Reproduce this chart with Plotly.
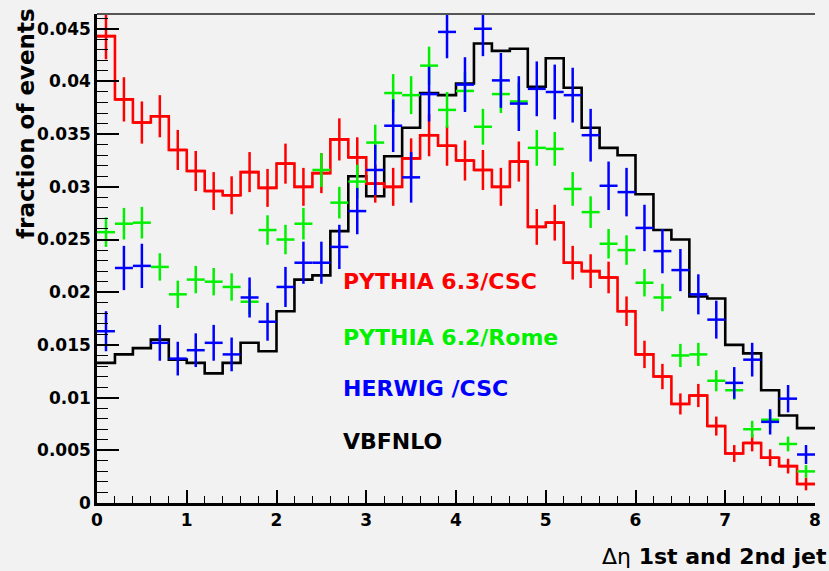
import plotly.graph_objects as go

# Delta-eta between the two leading jets, 40 bins of width 0.2 from 0 to 8
bin_width = 0.2
n_bins = 40
bin_edges = [round(i * bin_width, 1) for i in range(n_bins + 1)]
bin_centers = [round((i + 0.5) * bin_width, 2) for i in range(n_bins)]

# PYTHIA 6.3 / CSC
pythia63 = [0.0443, 0.0383, 0.0361, 0.0367, 0.0335, 0.0315, 0.0296, 0.0292, 0.0314, 0.0299,
            0.0322, 0.0300, 0.0313, 0.0345, 0.0328, 0.0303, 0.0300, 0.0327, 0.0349, 0.0339,
            0.0325, 0.0316, 0.0300, 0.0324, 0.0262, 0.0266, 0.0228, 0.0220, 0.0214, 0.0182,
            0.0141, 0.0120, 0.0094, 0.0102, 0.0073, 0.0047, 0.0057, 0.0043, 0.0035, 0.0018]
pythia63_err = [0.0022, 0.0021, 0.0020, 0.0020, 0.0019, 0.0019, 0.0018, 0.0018, 0.0019, 0.0018,
                0.0019, 0.0018, 0.0019, 0.0020, 0.0019, 0.0018, 0.0018, 0.0019, 0.0020, 0.0019,
                0.0019, 0.0019, 0.0018, 0.0019, 0.0017, 0.0017, 0.0016, 0.0016, 0.0015, 0.0014,
                0.0013, 0.0012, 0.0010, 0.0011, 0.0009, 0.0008, 0.0008, 0.0008, 0.0007, 0.0006]

# PYTHIA 6.2 / Rome
pythia62 = [0.0257, 0.0265, 0.0266, 0.0224, 0.0198, 0.0212, 0.0210, 0.0205, 0.0191, 0.0259,
            0.0250, 0.0265, 0.0316, 0.0285, 0.0305, 0.0342, 0.0389, 0.0387, 0.0415, 0.0373,
            0.0391, 0.0357, 0.0388, 0.0381, 0.0337, 0.0336, 0.0298, 0.0276, 0.0246, 0.0240,
            0.0209, 0.0195, 0.0140, 0.0141, 0.0116, 0.0107, 0.0070, 0.0079, 0.0056, 0.0030]
pythia62_err = [0.0014, 0.0015, 0.0015, 0.0013, 0.0013, 0.0013, 0.0013, 0.0013, 0.0012, 0.0014,
                0.0014, 0.0015, 0.0016, 0.0015, 0.0016, 0.0017, 0.0018, 0.0018, 0.0018, 0.0017,
                0.0018, 0.0017, 0.0018, 0.0018, 0.0017, 0.0016, 0.0016, 0.0015, 0.0014, 0.0014,
                0.0013, 0.0013, 0.0011, 0.0011, 0.0010, 0.0009, 0.0008, 0.0008, 0.0007, 0.0006]

# HERWIG / CSC
herwig = [0.0163, 0.0223, 0.0225, 0.0152, 0.0137, 0.0145, 0.0152, 0.0141, 0.0195, 0.0172,
          0.0205, 0.0228, 0.0228, 0.0243, 0.0277, 0.0316, 0.0358, 0.0309, 0.0388, 0.0447,
          0.0397, 0.0450, 0.0401, 0.0379, 0.0393, 0.0390, 0.0387, 0.0349, 0.0301, 0.0295,
          0.0261, 0.0239, 0.0221, 0.0198, 0.0174, 0.0114, 0.0136, 0.0077, 0.0099, 0.0046]
herwig_err = [0.0019, 0.0021, 0.0021, 0.0017, 0.0016, 0.0016, 0.0017, 0.0016, 0.0019, 0.0018,
              0.0019, 0.0020, 0.0020, 0.0021, 0.0022, 0.0024, 0.0025, 0.0024, 0.0026, 0.0025,
              0.0026, 0.0026, 0.0026, 0.0026, 0.0026, 0.0026, 0.0026, 0.0025, 0.0023, 0.0023,
              0.0022, 0.0021, 0.0020, 0.0019, 0.0018, 0.0015, 0.0016, 0.0012, 0.0013, 0.0009]

# VBFNLO
vbfnlo = [0.0133, 0.0141, 0.0147, 0.0155, 0.0136, 0.0133, 0.0123, 0.0133, 0.0152, 0.0144,
          0.0182, 0.0212, 0.0216, 0.0258, 0.0310, 0.0291, 0.0329, 0.0356, 0.0389, 0.0387,
          0.0398, 0.0436, 0.0429, 0.0431, 0.0395, 0.0422, 0.0394, 0.0356, 0.0337, 0.0330,
          0.0293, 0.0259, 0.0250, 0.0196, 0.0194, 0.0150, 0.0142, 0.0107, 0.0083, 0.0071]

y_tick_vals = [0, 0.005, 0.01, 0.015, 0.02, 0.025, 0.03, 0.035, 0.04, 0.045]
y_tick_text = ["0", "0.005", "0.01", "0.015", "0.02", "0.025", "0.03", "0.035", "0.04", "0.045"]
x_tick_vals = [0, 1, 2, 3, 4, 5, 6, 7, 8]
x_tick_text = ["0", "1", "2", "3", "4", "5", "6", "7", "8"]

legend_labels = ["PYTHIA 6.3/CSC", "PYTHIA 6.2/Rome", "HERWIG /CSC", "VBFNLO"]

RED, GREEN, BLUE, BLACK = "#ff0000", "#00f000", "#0000ff", "#000000"
BG = "#f2f2f2"
FONT = "DejaVu Sans"


def step_trace(values, color, width):
    # histogram outline: horizontal segment across each bin
    return go.Scatter(x=bin_edges, y=values + [values[-1]], mode="lines",
                      line=dict(color=color, width=width, shape="hv"),
                      hoverinfo="skip", showlegend=False)


def cross_trace(values, errors, color):
    # data points drawn as crosses: bin-width horizontal bar + vertical error bar
    return go.Scatter(x=bin_centers, y=values, mode="markers",
                      marker=dict(size=0, color=color, opacity=0),
                      error_x=dict(type="constant", value=bin_width / 2, thickness=2.5,
                                   width=0, color=color),
                      error_y=dict(type="data", array=errors, thickness=2.5,
                                   width=0, color=color),
                      showlegend=False)


fig = go.Figure()
fig.add_trace(step_trace(vbfnlo, BLACK, 2.6))
fig.add_trace(step_trace(pythia63, RED, 2.6))
fig.add_trace(cross_trace(pythia63, pythia63_err, RED))
fig.add_trace(cross_trace(pythia62, pythia62_err, GREEN))
fig.add_trace(cross_trace(herwig, herwig_err, BLUE))

# in-plot labels for the four samples
label_colors = [RED, GREEN, BLUE, BLACK]
label_y = [0.02098, 0.01571, 0.01082, 0.00579]
for text, col, yv in zip(legend_labels, label_colors, label_y):
    fig.add_annotation(x=2.72, y=yv, xref="x", yref="y", text=text, showarrow=False,
                       xanchor="left", yanchor="middle",
                       font=dict(family=FONT, size=22, color=col, weight="bold"))

# axis titles
fig.add_annotation(x=1.0, y=-0.11, xref="paper", yref="paper", xshift=14,
                   text="<span style='font-weight:normal'>Δη</span> 1st and 2nd jet",
                   showarrow=False, xanchor="right", yanchor="middle",
                   font=dict(family=FONT, size=22, color=BLACK, weight="bold"))
fig.add_annotation(x=-0.099, y=0.777, xref="paper", yref="paper",
                   text="fraction of events", textangle=-90, showarrow=False,
                   xanchor="center", yanchor="middle",
                   font=dict(family=FONT, size=23, color=BLACK, weight="bold"))

# upper frame line
fig.add_shape(type="line", xref="paper", yref="paper", x0=0, x1=1, y0=1, y1=1,
              line=dict(color="#555555", width=2))

fig.update_xaxes(range=[0, 8], tickvals=x_tick_vals, ticktext=x_tick_text,
                 ticks="inside", ticklen=13, tickwidth=1.5, tickcolor=BLACK,
                 minor=dict(ticks="inside", dtick=0.2, ticklen=7, tickwidth=1.2,
                            tickcolor=BLACK),
                 showline=True, linecolor=BLACK, linewidth=2.5, showgrid=False,
                 zeroline=False,
                 tickfont=dict(family=FONT, size=17, color=BLACK, weight="bold"))
fig.update_yaxes(range=[0, 0.0464], tickvals=y_tick_vals, ticktext=y_tick_text,
                 ticks="inside", ticklen=22, tickwidth=1.5, tickcolor=BLACK,
                 minor=dict(ticks="inside", dtick=0.001, ticklen=11, tickwidth=1.2,
                            tickcolor=BLACK),
                 showline=True, linecolor=BLACK, linewidth=2.5, showgrid=False,
                 zeroline=False,
                 tickfont=dict(family=FONT, size=17, color=BLACK, weight="bold"))

fig.update_layout(width=829, height=571, paper_bgcolor=BG, plot_bgcolor=BG,
                  margin=dict(l=97, r=8, t=14, b=68), showlegend=False)

fig.write_html("out.html")
